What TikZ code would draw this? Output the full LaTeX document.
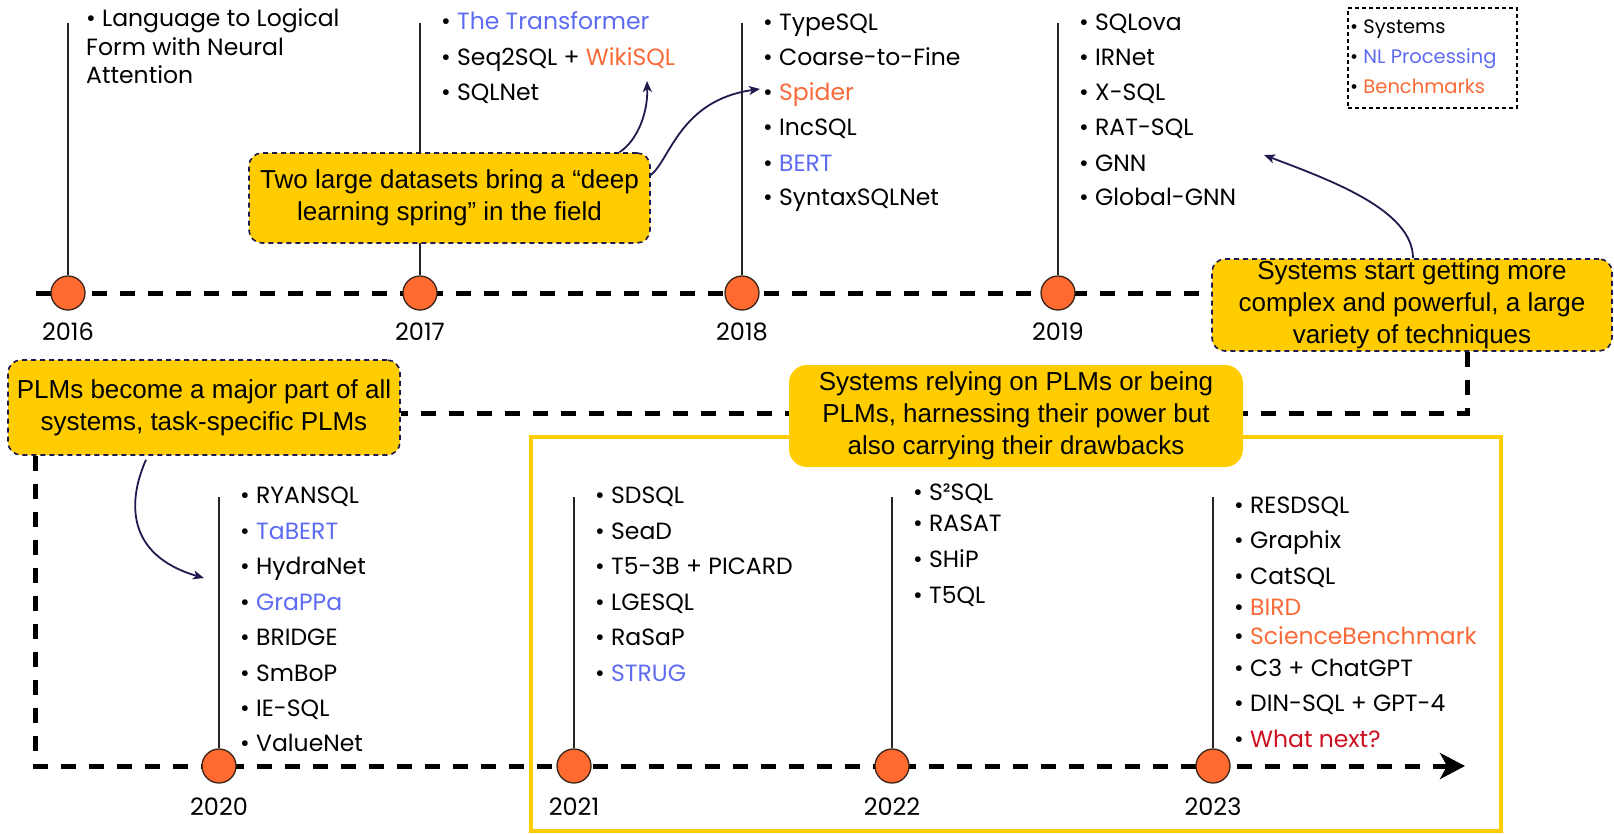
\documentclass[tikz,border=0pt]{standalone}
\usepackage{fontspec}
\setmainfont{Poppins}
\newfontfamily\arialf{Liberation Sans}
\usetikzlibrary{arrows.meta,backgrounds}
\definecolor{yel}{HTML}{FFCC00}
\definecolor{orng}{HTML}{FF6A30}
\definecolor{bench}{HTML}{FA6A38}
\definecolor{nlb}{HTML}{5C6BF2}
\definecolor{navy}{HTML}{1F1A4D}
\definecolor{wred}{HTML}{CC1020}
\definecolor{dotb}{HTML}{3A2418}
\begin{document}
\begin{tikzpicture}[x=1pt,y=-1pt,
  tline/.style={line width=5pt, dash pattern=on 15pt off 13pt, black},
  vl/.style={line width=1.6pt, draw=black!85},
  yrdot/.style={circle, fill=orng, draw=dotb, line width=1.3pt, minimum size=34pt, inner sep=0pt},
  ylab/.style={font=\fontsize{24}{26}\selectfont},
  itm/.style={anchor=base west, inner sep=0pt, font=\fontsize{23.5}{26}\selectfont},
  lgi/.style={anchor=base west, inner sep=0pt, font=\fontsize{19.5}{22}\selectfont},
  cbox/.style={fill=yel, draw=navy, line width=1.6pt, dash pattern=on 5pt off 4pt, rounded corners=13pt, align=center, inner sep=0pt, font=\arialf\fontsize{26}{32}\selectfont},
  carrow/.style={draw=navy, line width=1.8pt, -{Stealth[length=11pt,width=9pt,inset=3pt]}}
]
\useasboundingbox (0,0) rectangle (1614,833);

% callout boxes
\node[cbox, minimum width=401pt, minimum height=90pt] (two) at (449.5,198) {Two large datasets bring a “deep\\learning spring” in the field};
\node[cbox, minimum width=400pt, minimum height=92pt] (sys) at (1412,305) {Systems start getting more\\complex and powerful, a large\\variety of techniques};
\node[cbox, minimum width=392pt, minimum height=95pt] (plm) at (204,407.5) {PLMs become a major part of all\\systems, task-specific PLMs};
\node[fill=yel, rounded corners=18pt, align=center, inner sep=0pt, minimum width=454pt, minimum height=102pt, font=\arialf\fontsize{26}{32}\selectfont] (rely) at (1016,416) {Systems relying on PLMs or being\\PLMs, harnessing their power but\\also carrying their drawbacks};

% year dots
\node[yrdot] (c16) at (68,293) {};
\node[yrdot] (c17) at (420,293) {};
\node[yrdot] (c18) at (742,293) {};
\node[yrdot] (c19) at (1058,293) {};
\node[yrdot] (c20) at (219,766) {};
\node[yrdot] (c21) at (574,766) {};
\node[yrdot] (c22) at (892,766) {};
\node[yrdot] (c23) at (1213,766) {};

% year labels
\node[ylab] (y16) at (68,332) {2016};
\node[ylab] (y17) at (420,332) {2017};
\node[ylab] (y18) at (742,332) {2018};
\node[ylab] (y19) at (1058,332) {2019};
\node[ylab] (y20) at (219,807) {2020};
\node[ylab] (y21) at (574,807) {2021};
\node[ylab] (y22) at (892,807) {2022};
\node[ylab] (y23) at (1213,807) {2023};

% coordinates
\coordinate (t16) at (68,23);
\coordinate (t17) at (420,23);
\coordinate (t18) at (742,23);
\coordinate (t19) at (1058,23);
\coordinate (t20) at (219,497);
\coordinate (t21) at (574,497);
\coordinate (t22) at (892,497);
\coordinate (t23) at (1213,497);
\coordinate (s1) at (36,293);
\coordinate (k1) at (1467,413);
\coordinate (k2) at (35,766);
\coordinate (e2) at (1465,766);

\begin{scope}[on background layer]
  \draw[yel, line width=3.5pt] (531,437) rectangle (1501,831);
  \draw[tline] (s1) -- (sys.west |- s1);
  \draw[tline] (sys.south -| k1) -- (k1) -- (plm.east |- k1);
  \draw[tline, -{Stealth[length=25pt,width=26pt,inset=7pt]}] (plm.south -| k2) -- (k2) -- (e2);
  \foreach \y in {16,17,18,19,20,21,22,23} { \draw[vl] (t\y) -- (c\y.north); }
\end{scope}

% 2016
\node[itm] (a1) at (86,26) {\textbullet\ Language to Logical};
\node[itm] (a2) at (86,55) {Form with Neural};
\node[itm] (a3) at (86,83) {Attention};
% 2017
\node[itm] (b1) at (441,29) {\textbullet\ {\color{nlb}The Transformer}};
\node[itm] (b2) at (441,65) {\textbullet\ Seq2SQL + {\color{bench}WikiSQL}};
\node[itm] (b3) at (441,100) {\textbullet\ SQLNet};
% 2018
\node[itm] (d1) at (763,30) {\textbullet\ TypeSQL};
\node[itm] (d2) at (763,65) {\textbullet\ Coarse-to-Fine};
\node[itm] (d3) at (763,100) {\textbullet\ {\color{bench}Spider}};
\node[itm] (d4) at (763,135) {\textbullet\ IncSQL};
\node[itm] (d5) at (763,171) {\textbullet\ {\color{nlb}BERT}};
\node[itm] (d6) at (763,205) {\textbullet\ SyntaxSQLNet};
% 2019
\node[itm] (f1) at (1079,30) {\textbullet\ SQLova};
\node[itm] (f2) at (1079,65) {\textbullet\ IRNet};
\node[itm] (f3) at (1079,100) {\textbullet\ X-SQL};
\node[itm] (f4) at (1079,135) {\textbullet\ RAT-SQL};
\node[itm] (f5) at (1079,171) {\textbullet\ GNN};
\node[itm] (f6) at (1079,205) {\textbullet\ Global-GNN};
% legend
\node[draw=black, line width=1.3pt, dash pattern=on 4pt off 3pt, minimum width=169pt, minimum height=100pt, inner sep=0pt] (leg) at (1432.5,58) {};
\node[lgi] (g1) at (1350,33) {\textbullet\ Systems};
\node[lgi] (g2) at (1350,63) {\textbullet\ {\color{nlb}NL Processing}};
\node[lgi] (g3) at (1350,93) {\textbullet\ {\color{bench}Benchmarks}};
% 2020
\node[itm] (h1) at (240,503) {\textbullet\ RYANSQL};
\node[itm] (h2) at (240,539) {\textbullet\ {\color{nlb}TaBERT}};
\node[itm] (h3) at (240,574) {\textbullet\ HydraNet};
\node[itm] (h4) at (240,610) {\textbullet\ {\color{nlb}GraPPa}};
\node[itm] (h5) at (240,645) {\textbullet\ BRIDGE};
\node[itm] (h6) at (240,681) {\textbullet\ SmBoP};
\node[itm] (h7) at (240,716) {\textbullet\ IE-SQL};
\node[itm] (h8) at (240,751) {\textbullet\ ValueNet};
% 2021
\node[itm] (m1) at (595,503) {\textbullet\ SDSQL};
\node[itm] (m2) at (595,539) {\textbullet\ SeaD};
\node[itm] (m3) at (595,574) {\textbullet\ T5-3B + PICARD};
\node[itm] (m4) at (595,610) {\textbullet\ LGESQL};
\node[itm] (m5) at (595,645) {\textbullet\ RaSaP};
\node[itm] (m6) at (595,681) {\textbullet\ {\color{nlb}STRUG}};
% 2022
\node[itm] (p1) at (913,500) {\textbullet\ S²SQL};
\node[itm] (p2) at (913,531) {\textbullet\ RASAT};
\node[itm] (p3) at (913,567) {\textbullet\ SHiP};
\node[itm] (p4) at (913,603) {\textbullet\ T5QL};
% 2023
\node[itm] (q1) at (1234,513) {\textbullet\ RESDSQL};
\node[itm] (q2) at (1234,548) {\textbullet\ Graphix};
\node[itm] (q3) at (1234,584) {\textbullet\ CatSQL};
\node[itm] (q4) at (1234,615) {\textbullet\ {\color{bench}BIRD}};
\node[itm] (q5) at (1234,644) {\textbullet\ {\color{bench}ScienceBenchmark}};
\node[itm] (q6) at (1234,676) {\textbullet\ C3 + ChatGPT};
\node[itm] (q7) at (1234,711) {\textbullet\ DIN-SQL + GPT-4};
\node[itm] (q8) at (1234,747) {\textbullet\ {\color{wred}What next?}};

% callout arrows
\coordinate (ar1) at (647,81);
\coordinate (ar2) at (760,89);
\coordinate (ar3) at (1264,155);
\coordinate (ar4) at (204,578);
\draw[carrow] ([xshift=170pt]two.north) .. controls (638,140) and (648,112) .. (ar1);
\draw[carrow] ([yshift=23pt]two.east) .. controls (670,160) and (680,100) .. (ar2);
\draw[carrow] ([xshift=1pt]sys.north) .. controls (1413,210) and (1330,180) .. (ar3);
\draw[carrow] ([xshift=-58pt,yshift=-4pt]plm.south) .. controls (128,500) and (125,555) .. (ar4);
\end{tikzpicture}
\end{document}
